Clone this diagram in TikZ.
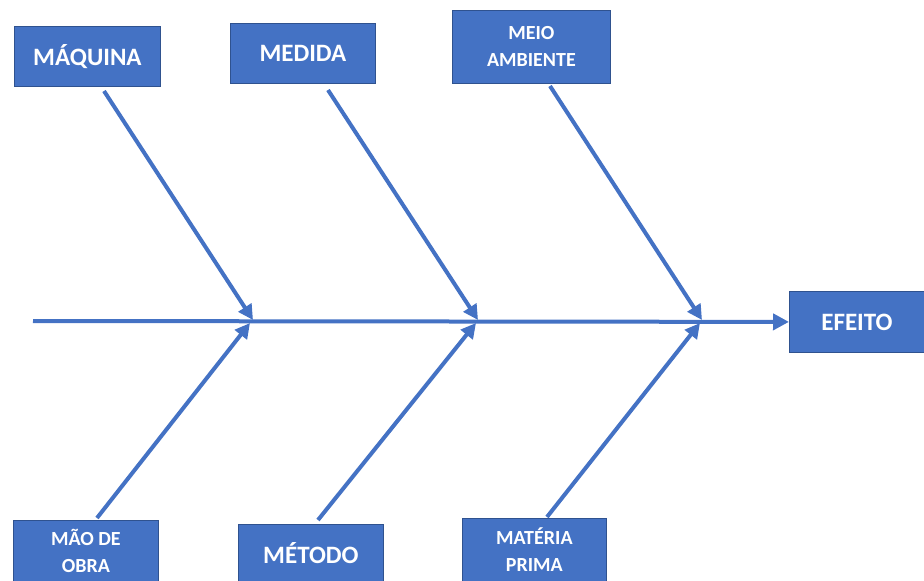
\documentclass[tikz,border=0pt]{standalone}
\usepackage{fontspec}
\setmainfont{Carlito}
\usetikzlibrary{arrows.meta}
\definecolor{fill}{HTML}{4472C4}
\definecolor{edge}{HTML}{2F528F}
\begin{document}
\begin{tikzpicture}[x=1pt,y=-1pt,
  box/.style={draw=edge,line width=0.8pt,fill=fill,text=white,inner sep=0pt,align=center,anchor=north west},
  big/.style={font=\bfseries\fontsize{25}{28}\selectfont},
  small/.style={font=\bfseries\fontsize{20}{27}\selectfont},
  bone/.style={draw=fill,line width=4pt,-{Triangle[length=15pt,width=15pt]}},
  spine/.style={draw=fill,line width=4pt,-{Triangle[length=16pt,width=16pt]}}]
\useasboundingbox (0,0) rectangle (924,581);
% boxes
\node[box,big,minimum width=146pt,minimum height=60pt] (maq) at (14,26) {MÁQUINA};
\node[box,big,minimum width=145pt,minimum height=60pt] (med) at (230,23) {MEDIDA};
\node[box,small,minimum width=158pt,minimum height=73pt] (meio) at (452,10) {MEIO\\AMBIENTE};
\node[box,big,minimum width=135pt,minimum height=61pt] (efe) at (789,291) {EFEITO};
\node[box,small,minimum width=145pt,minimum height=61pt] (mao) at (13,520) {MÃO DE\\OBRA};
\node[box,big,minimum width=145pt,minimum height=57pt] (met) at (238,524) {MÉTODO};
\node[box,small,minimum width=144pt,minimum height=63pt] (mat) at (462,518) {MATÉRIA\\PRIMA};
% coordinates
\coordinate (tail) at (33,321);
\coordinate (j1) at (253,320);
\coordinate (j2) at (478,320);
\coordinate (j3) at (702,320);
\coordinate (s1) at (104,91);
\coordinate (s2) at (328,90);
\coordinate (s3) at (550,86);
\coordinate (s4) at (97,518);
\coordinate (s5) at (318,520);
\coordinate (s6) at (547,517);
\coordinate (b1) at (250,323);
\coordinate (b2) at (476,323);
\coordinate (b3) at (700,323);
% spine
\draw[spine] (tail) -- (efe.west);
% bones
\draw[bone] (s1) -- (j1);
\draw[bone] (s2) -- (j2);
\draw[bone] (s3) -- (j3);
\draw[bone] (s4) -- (b1);
\draw[bone] (s5) -- (b2);
\draw[bone] (s6) -- (b3);
\end{tikzpicture}
\end{document}
